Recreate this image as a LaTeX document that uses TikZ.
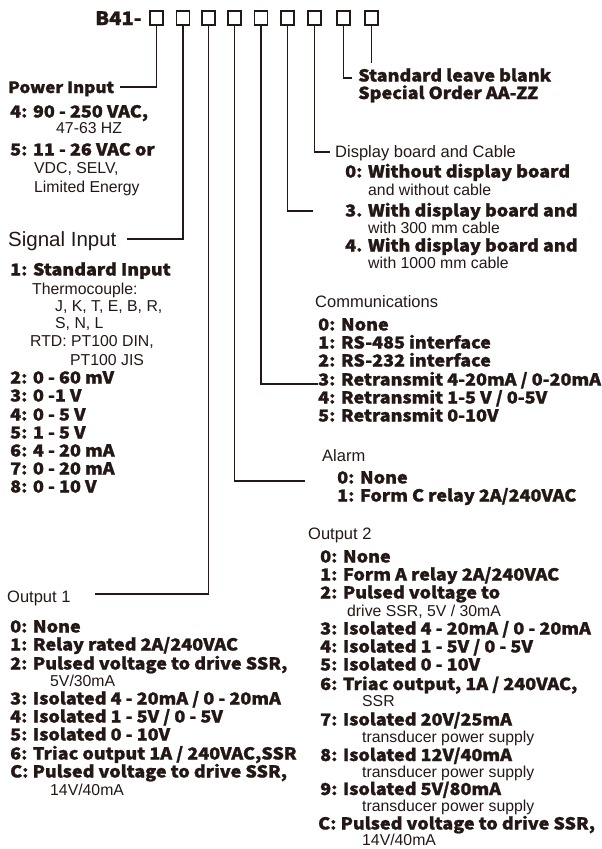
\documentclass[tikz,border=0pt]{standalone}
\usepackage{fontspec}
\setmainfont{Liberation Sans}
\IfFontExistsTF{Noto Sans CJK SC Black}
  {\newfontfamily\hv[FakeStretch=1.09,FakeBold=1.4]{Noto Sans CJK SC Black}}
  {\IfFontExistsTF{Fira Sans Heavy}
     {\newfontfamily\hv[FakeBold=1]{Fira Sans Heavy}}
     {\newfontfamily\hv[FakeBold=2]{Liberation Sans Bold}}}
\definecolor{ink}{HTML}{231815}
\begin{document}
\begin{tikzpicture}[x=1pt,y=-1pt,
  bd/.style={anchor=base west, inner sep=0pt, text=ink, font=\hv\fontsize{16.5}{16}\selectfont},
  rg/.style={anchor=base west, inner sep=0pt, text=ink, font=\fontsize{15.8}{16}\selectfont},
  ttl/.style={anchor=base west, inner sep=0pt, text=ink, font=\fontsize{16.5}{17}\selectfont},
  bx/.style={draw=ink, line width=1.8pt, minimum width=13pt, minimum height=14pt, inner sep=0pt},
  ln/.style={draw=ink, line width=1.2pt}]
\useasboundingbox (0,0) rectangle (602,849);
% header
\node[bd, font=\hv\fontsize{18.5}{19}\selectfont] (code) at (95,25) {B41-};
\foreach \i/\x in {1/156.5,2/183,3/208.5,4/234.5,5/261,6/287.5,7/314.5,8/343.5,9/371.5}
  \node[bx] (b\i) at (\x,18) {};
% connectors
\coordinate (c1) at (120,87);
\coordinate (c2) at (127,239);
\coordinate (c3) at (95,594);
\coordinate (c4) at (305,481);
\coordinate (c5) at (318,384);
\coordinate (c6) at (313,211);
\coordinate (c7) at (330,152);
\coordinate (c8) at (352,78);
\coordinate (c9) at (371.5,63);
\foreach \i in {1,...,8} \draw[ln] (b\i.south) |- (c\i);
\draw[ln] (b9.south) -- (c9);
% standard
\node[bd] (std1) at (358,81.5) {Standard leave blank};
\node[bd] (std2) at (358,99) {Special Order AA-ZZ};
% power input
\node[bd, font=\hv\fontsize{15.6}{16}\selectfont] (pwr) at (8,93) {Power Input};
\node[bd] (p1) at (10,117.5) {4: 90 - 250 VAC,};
\node[rg] (p2) at (56,133.5) {47-63 HZ};
\node[bd] (p3) at (10,155.5) {5: 11 - 26 VAC or};
\node[rg] (p4) at (34,173.5) {VDC, SELV,};
\node[rg] (p5) at (34,192.5) {Limited Energy};
% signal input
\node[ttl, font=\fontsize{20.5}{20}\selectfont] (sig) at (8,246.5) {Signal Input};
\node[bd] (s1) at (10,275.5) {1: Standard Input};
\node[rg] (s2) at (32,294.5) {Thermocouple:};
\node[rg] (s3) at (55,311.5) {J, K, T, E, B, R,};
\node[rg] (s4) at (55,328.5) {S, N, L};
\node[rg] (s5) at (30,346.5) {RTD: PT100 DIN,};
\node[rg] (s6) at (70,365.5) {PT100 JIS};
\node[bd] (s7) at (10,383.5) {2: 0 - 60 mV};
\node[bd] (s8) at (10,401.5) {3: 0 -1 V};
\node[bd] (s9) at (10,420.5) {4: 0 - 5 V};
\node[bd] (s10) at (10,438.5) {5: 1 - 5 V};
\node[bd] (s11) at (10,456.5) {6: 4 - 20 mA};
\node[bd] (s12) at (10,474.5) {7: 0 - 20 mA};
\node[bd] (s13) at (10,492.5) {8: 0 - 10 V};
% display board
\node[ttl] (dsp) at (335,157.5) {Display board and Cable};
\node[bd] (d1) at (345,177.5) {0: Without display board};
\node[rg] (d2) at (368,195.5) {and without cable};
\node[bd] (d3) at (345,216.5) {3. With display board and};
\node[rg] (d4) at (368,233.5) {with 300 mm cable};
\node[bd] (d5) at (345,251.5) {4. With display board and};
\node[rg] (d6) at (368,268.5) {with 1000 mm cable};
% communications
\node[ttl] (com) at (315,307.5) {Communications};
\node[bd] (m0) at (318,330.5) {0: None};
\node[bd] (m1) at (318,348.5) {1: RS-485 interface};
\node[bd] (m2) at (318,366.5) {2: RS-232 interface};
\node[bd] (m3) at (318,385.5) {3: Retransmit 4-20mA / 0-20mA};
\node[bd] (m4) at (318,403.5) {4: Retransmit 1-5 V / 0-5V};
\node[bd] (m5) at (318,421.5) {5: Retransmit 0-10V};
% alarm
\node[ttl] (alm) at (322,461.5) {Alarm};
\node[bd] (a0) at (337,483.5) {0: None};
\node[bd] (a1) at (337,501.5) {1: Form C relay 2A/240VAC};
% output 2
\node[ttl] (o2) at (308,539.5) {Output 2};
\node[bd] (q0) at (320,562.5) {0: None};
\node[bd] (q1) at (320,580.5) {1: Form A relay 2A/240VAC};
\node[bd] (q2) at (320,598.5) {2: Pulsed voltage to};
\node[rg] (q2b) at (347,616.5) {drive SSR, 5V / 30mA};
\node[bd] (q3) at (320,634.5) {3: Isolated 4 - 20mA / 0 - 20mA};
\node[bd] (q4) at (320,652.5) {4: Isolated 1 - 5V / 0 - 5V};
\node[bd] (q5) at (320,670.5) {5: Isolated 0 - 10V};
\node[bd] (q6) at (320,690) {6: Triac output, 1A / 240VAC,};
\node[rg] (q6b) at (362,706) {SSR};
\node[bd] (q7) at (320,725.5) {7: Isolated 20V/25mA};
\node[rg] (q7b) at (362,742.5) {transducer power supply};
\node[bd] (q8) at (320,761) {8: Isolated 12V/40mA};
\node[rg] (q8b) at (362,777) {transducer power supply};
\node[bd] (q9) at (320,795) {9: Isolated 5V/80mA};
\node[rg] (q9b) at (362,811.5) {transducer power supply};
\node[bd] (qc) at (318,829.5) {C: Pulsed voltage to drive SSR,};
\node[rg] (qcb) at (362,845) {14V/40mA};
% output 1
\node[ttl] (o1) at (7,602.5) {Output 1};
\node[bd] (r0) at (10,632.5) {0: None};
\node[bd] (r1) at (10,650.5) {1: Relay rated 2A/240VAC};
\node[bd] (r2) at (10,669.5) {2: Pulsed voltage to drive SSR,};
\node[rg] (r2b) at (50,686.5) {5V/30mA};
\node[bd] (r3) at (10,704.5) {3: Isolated 4 - 20mA / 0 - 20mA};
\node[bd] (r4) at (10,722.5) {4: Isolated 1 - 5V / 0 - 5V};
\node[bd] (r5) at (10,740.5) {5: Isolated 0 - 10V};
\node[bd] (r6) at (10,759.5) {6: Triac output 1A / 240VAC,SSR};
\node[bd] (rc) at (10,777.5) {C: Pulsed voltage to drive SSR,};
\node[rg] (rcb) at (50,795.5) {14V/40mA};
\end{tikzpicture}
\end{document}
